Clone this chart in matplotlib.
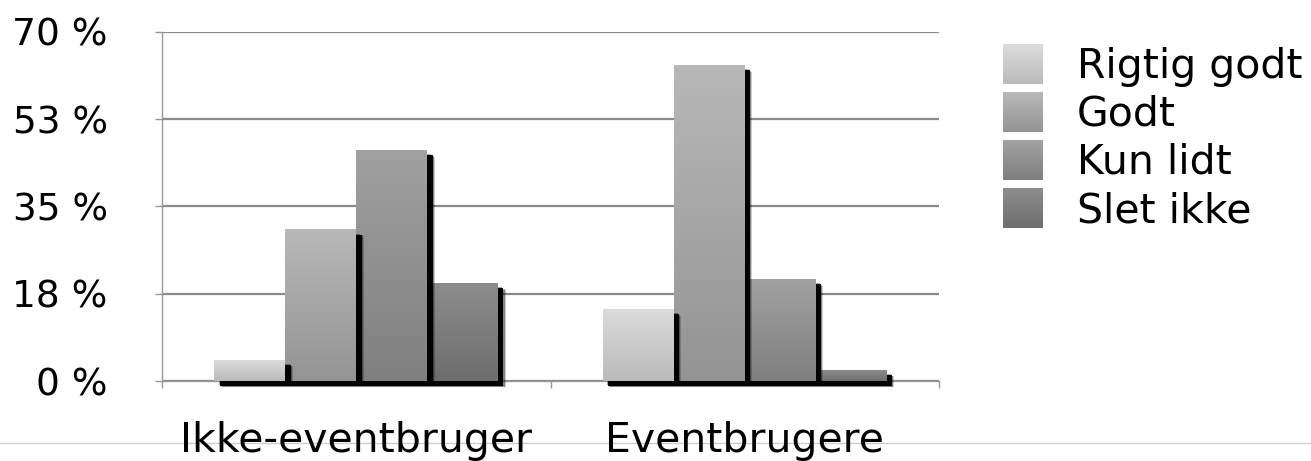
#! /usr/bin/env python3

import numpy as np
import matplotlib
matplotlib.use('Agg')
import matplotlib.pyplot as plt
import matplotlib.patheffects as pe
from matplotlib.patches import Rectangle
from matplotlib.legend_handler import HandlerBase
from matplotlib.lines import Line2D

# values in %
groups = ['Ikke-eventbruger', 'Eventbrugere']
series = ['Rigtig godt', 'Godt', 'Kun lidt', 'Slet ikke']
rigtig_godt = [4.2, 14.4]
godt = [30.3, 63.3]
kun_lidt = [46.3, 20.4]
slet_ikke = [19.6, 2.2]
yticks = [0, 17.5, 35, 52.5, 70]
ytick_labels = ['0 %', '18 %', '35 %', '53 %', '70 %']

values = [rigtig_godt, godt, kun_lidt, slet_ikke]
# gray levels (top, bottom) of the gradient for each series
shades = [(0.86, 0.73), (0.72, 0.58), (0.63, 0.50), (0.55, 0.43)]

plt.rcParams['font.family'] = ['DejaVu Sans']
FS = 29.5

fig = plt.figure(figsize=(13.11, 4.61), dpi=100)
ax = fig.add_axes([162 / 1311, 80 / 461, 777 / 1311, 349 / 461])

x = np.arange(len(groups))
width = 0.1825

# soft drop shadow: a solid core with fainter layers round it
shadow = [pe.SimplePatchShadow(offset=(5.4, -4.6), shadow_rgbFace='k', alpha=0.2),
          pe.SimplePatchShadow(offset=(4.7, -4.0), shadow_rgbFace='k', alpha=0.35),
          pe.SimplePatchShadow(offset=(3.0, -2.6), shadow_rgbFace='k', alpha=0.35),
          pe.SimplePatchShadow(offset=(3.9, -3.3), shadow_rgbFace='k', alpha=0.95)]

for i, vals in enumerate(values):
    top, bottom = shades[i]
    z = 10 - 2 * i
    bars = ax.bar(x + (i - 1.5) * width, vals, width, align='center',
                  color=(top + bottom) / 2 * np.ones(3), linewidth=0,
                  zorder=z, clip_on=False)
    grad = np.linspace(top, bottom, 128)[:, None, None] * np.ones((1, 1, 3))
    for bar in bars:
        bar.set_path_effects(shadow)
        x0, y0 = bar.get_x(), bar.get_y()
        ax.imshow(grad, extent=(x0, x0 + bar.get_width(), y0, y0 + bar.get_height()),
                  aspect='auto', interpolation='bilinear', zorder=z + 0.5,
                  clip_on=False)

ax.set_xlim(-0.5, len(groups) - 0.5)
ax.set_ylim(0, 70)

ax.set_yticks(yticks)
ax.set_yticklabels(ytick_labels, fontsize=27)
ax.tick_params(axis='y', length=7 * 0.72, width=1, color='#999999', pad=34)
ax.yaxis.grid(True, color='#8a8a8a', linewidth=1.6)
ax.set_axisbelow(True)

ax.set_xticks(x)
ax.set_xticklabels(groups, fontsize=FS)
ax.set_xticks(np.arange(len(groups) + 1) - 0.5, minor=True)
ax.tick_params(axis='x', which='major', length=0, pad=28.5)
ax.tick_params(axis='x', which='minor', length=7 * 0.72, width=1, color='#999999')

for side in ['top', 'right']:
    ax.spines[side].set_visible(False)
for side in ['left', 'bottom']:
    ax.spines[side].set_color('#999999')
    ax.spines[side].set_linewidth(1)


class GradientHandler(HandlerBase):
    def __init__(self, top, bottom):
        super().__init__()
        self.top = top
        self.bottom = bottom

    def create_artists(self, legend, orig_handle, xdescent, ydescent,
                       width, height, fontsize, trans):
        n = 24
        arts = []
        for k in range(n):
            g = self.top + (self.bottom - self.top) * k / (n - 1)
            y = -ydescent + height * (1 - (k + 1) / n)
            arts.append(Rectangle((-xdescent, y), width, height / n * 1.05,
                                  facecolor=(g, g, g), edgecolor='none',
                                  transform=trans))
        return arts


handles = [Rectangle((0, 0), 1, 1) for _ in series]
hmap = {h: GradientHandler(*shades[i]) for i, h in enumerate(handles)}
fig.legend(handles, series, handler_map=hmap, loc='upper left',
           bbox_to_anchor=(1003 / 1311, 1 - 44 / 461), frameon=False,
           fontsize=FS, borderpad=0, borderaxespad=0,
           handlelength=28.8 / FS, handleheight=1.125,
           handletextpad=24.5 / FS, labelspacing=3.7 / FS)

fig.add_artist(Line2D([0, 1], [18 / 461, 18 / 461], color='#cccccc',
                      linewidth=1, zorder=-5))

fig.savefig('out.png', dpi=100)
